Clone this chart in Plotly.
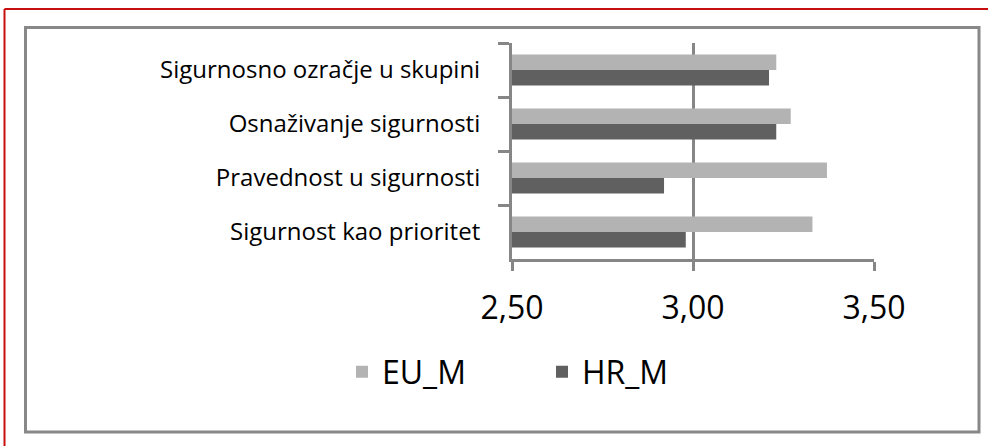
import plotly.graph_objects as go

categories = [
    'Sigurnosno ozračje u skupini',
    'Osnaživanje sigurnosti',
    'Pravednost u sigurnosti',
    'Sigurnost kao prioritet',
]
eu_m = [3.23, 3.27, 3.37, 3.33]
hr_m = [3.21, 3.23, 2.92, 2.98]
x_ticks = [2.5, 3.0, 3.5]
x_tick_labels = ['2,50', '3,00', '3,50']

# plot area in pixels (left, right, top, bottom)
L, R, T, B = 512, 874, 43, 259
W, H = 988, 446


def px(x):
    return (x - L) / (R - L)


def py(y):
    return (B - y) / (B - T)


fig = go.Figure()
fig.add_trace(go.Bar(y=categories, x=eu_m, name='EU_M', orientation='h',
                     marker=dict(color='#b3b3b3', line_width=0)))
fig.add_trace(go.Bar(y=categories, x=hr_m, name='HR_M', orientation='h',
                     marker=dict(color='#606060', line_width=0)))

grey = '#868686'
shapes = [
    # outer red frame (only top and left visible)
    dict(type='line', xref='paper', yref='paper', x0=px(4.5), x1=px(W + 5),
         y0=py(9), y1=py(9), line=dict(color='#c80f0f', width=2)),
    dict(type='line', xref='paper', yref='paper', x0=px(4.5), x1=px(4.5),
         y0=py(9), y1=py(H + 5), line=dict(color='#c80f0f', width=2)),
    # grey chart frame
    dict(type='rect', xref='paper', yref='paper', x0=px(25.5), x1=px(979),
         y0=py(27.5), y1=py(432), line=dict(color='#888888', width=3)),
]

fig.update_layout(
    width=W, height=H,
    margin=dict(l=L, r=W - R, t=T, b=H - B, pad=0),
    paper_bgcolor='white', plot_bgcolor='white',
    barmode='group', bargap=0.43, bargroupgap=0,
    font=dict(family='Open Sans', color='black'),
    showlegend=True,
    legend=dict(orientation='h', x=px(342), y=py(372), xanchor='left',
                yanchor='middle', font=dict(size=32), entrywidth=155,
                bgcolor='rgba(0,0,0,0)'),
    shapes=shapes,
    xaxis=dict(range=[2.5, 3.5], tickvals=x_ticks, ticktext=x_tick_labels,
               showgrid=True, gridcolor=grey, gridwidth=3,
               showline=True, linecolor=grey, linewidth=3,
               ticks='outside', ticklen=9, tickwidth=3, tickcolor=grey,
               tickfont=dict(size=32), ticklabelstandoff=10, zeroline=False),
    yaxis=dict(autorange='reversed', type='category', tickson='boundaries',
               showline=True, linecolor=grey, linewidth=3, showgrid=False,
               ticks='outside', ticklen=11, tickwidth=3, tickcolor=grey,
               tickfont=dict(size=24), ticklabelstandoff=24),
)

fig.write_html('out.html', config={'displayModeBar': False},
               post_script="document.body.style.margin='0';")
